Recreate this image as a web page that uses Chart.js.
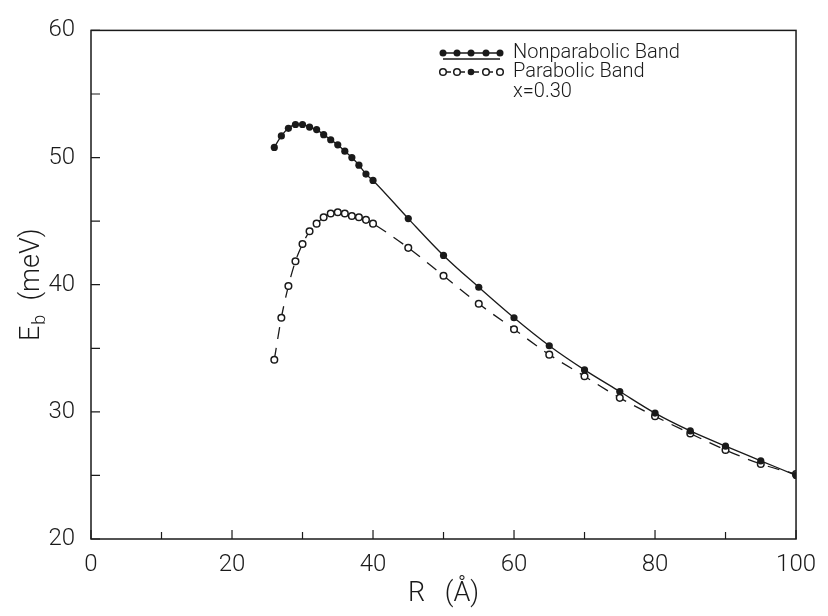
<!DOCTYPE html>
<html>
<head>
<meta charset="utf-8">
<script src="https://cdn.jsdelivr.net/npm/chart.js@4"></script>
<style>
  html, body { margin: 0; padding: 0; background: #fff; }
  #wrap { width: 828px; height: 616px; }
</style>
</head>
<body>
<div id="wrap"><canvas id="myChart" width="828" height="616"></canvas></div>
<script>
// R in Angstrom
const radius = [26, 27, 28, 29, 30, 31, 32, 33, 34, 35, 36, 37, 38, 39, 40,
                45, 50, 55, 60, 65, 70, 75, 80, 85, 90, 95, 100];
// binding energy (meV)
const nonparabolic = [50.8, 51.7, 52.3, 52.6, 52.6, 52.4, 52.2, 51.8, 51.4, 51.0, 50.5, 50.0, 49.4, 48.7, 48.2,
                      45.2, 42.3, 39.8, 37.4, 35.2, 33.3, 31.6, 29.9, 28.5, 27.3, 26.15, 25.0];
const parabolic = [34.1, 37.4, 39.9, 41.85, 43.2, 44.2, 44.8, 45.3, 45.6, 45.7, 45.6, 45.4, 45.3, 45.1, 44.8,
                   42.9, 40.7, 38.5, 36.5, 34.5, 32.8, 31.1, 29.65, 28.3, 27.0, 25.9, 25.1];
const xMinorTicks = [0, 10, 20, 30, 40, 50, 60, 70, 80, 90, 100];
const yMinorTicks = [20, 25, 30, 35, 40, 45, 50, 55, 60];
const legendLabels = ['Nonparabolic Band', 'Parabolic Band', 'x=0.30'];

const ink = '#1a1a1a';
const tickFont = { family: 'Roboto', size: 24, weight: 300 };

const toPoints = (ys) => radius.map((r, i) => ({ x: r, y: ys[i] }));

// frame + inward ticks, like the original plot
const framePlugin = {
  id: 'frame',
  afterDatasetsDraw(chart) {
    const { ctx, chartArea: a, scales } = chart;
    ctx.save();
    ctx.strokeStyle = ink;
    ctx.lineWidth = 1.5;
    ctx.strokeRect(a.left, a.top, a.right - a.left, a.bottom - a.top);
    ctx.lineWidth = 1.2;
    ctx.beginPath();
    xMinorTicks.forEach(v => {
      const px = scales.x.getPixelForValue(v);
      const len = v % 20 === 0 ? 9 : 7;
      ctx.moveTo(px, a.bottom);
      ctx.lineTo(px, a.bottom - len);
    });
    yMinorTicks.forEach(v => {
      const py = scales.y.getPixelForValue(v);
      ctx.moveTo(a.left, py);
      ctx.lineTo(a.left + 9, py);
    });
    ctx.stroke();

    // y title: E with subscript b
    ctx.fillStyle = ink;
    ctx.translate(32, (a.top + a.bottom) / 2);
    ctx.rotate(-Math.PI / 2);
    ctx.textBaseline = 'middle';
    ctx.font = '300 27px Roboto';
    const wE = ctx.measureText('E').width;
    ctx.font = '300 18px Roboto';
    const wb = ctx.measureText('b').width;
    ctx.font = '300 27px Roboto';
    const wRest = ctx.measureText('  (meV)').width;
    const total = wE + wb + 2 + wRest;
    let x0 = -total / 2;
    ctx.textAlign = 'left';
    ctx.fillText('E', x0, 0);
    ctx.font = '300 18px Roboto';
    ctx.fillText('b', x0 + wE + 1, 8);
    ctx.font = '300 27px Roboto';
    ctx.fillText('  (meV)', x0 + wE + wb + 2, 0);
    ctx.restore();
  }
};

// legend drawn like the figure's key
const keyPlugin = {
  id: 'key',
  afterDraw(chart) {
    const { ctx } = chart;
    const xs = [443, 457, 471, 486, 500];
    ctx.save();
    ctx.strokeStyle = ink;
    ctx.fillStyle = ink;
    ctx.lineWidth = 1.3;
    // nonparabolic row
    ctx.beginPath();
    ctx.moveTo(443, 53); ctx.lineTo(500, 53);
    ctx.moveTo(443, 59); ctx.lineTo(500, 59);
    ctx.stroke();
    xs.forEach(x => { ctx.beginPath(); ctx.arc(x, 53, 3.5, 0, Math.PI * 2); ctx.fill(); });
    // parabolic row
    ctx.setLineDash([8, 6]);
    ctx.beginPath();
    ctx.moveTo(443, 72); ctx.lineTo(500, 72);
    ctx.stroke();
    ctx.setLineDash([]);
    ctx.lineWidth = 1.5;
    [443, 457, 486, 500].forEach(x => {
      ctx.beginPath(); ctx.arc(x, 72, 3.3, 0, Math.PI * 2);
      ctx.fillStyle = '#fff'; ctx.fill(); ctx.stroke();
    });
    ctx.fillStyle = ink;
    ctx.beginPath(); ctx.arc(471, 72, 3.3, 0, Math.PI * 2); ctx.fill();
    ctx.font = '300 20px Roboto';
    ctx.textBaseline = 'middle';
    ctx.textAlign = 'left';
    ctx.fillText(legendLabels[0], 513, 53);
    ctx.fillText(legendLabels[1], 513, 72);
    ctx.fillText(legendLabels[2], 513, 92);
    ctx.restore();
  }
};

const ctx = document.getElementById('myChart');
new Chart(ctx, {
  type: 'scatter',
  data: {
    datasets: [{
      label: legendLabels[0],
      data: toPoints(nonparabolic),
      showLine: true,
      cubicInterpolationMode: 'monotone',
      borderColor: ink,
      borderWidth: 1.3,
      pointRadius: 3.6,
      pointBackgroundColor: ink,
      pointBorderColor: ink,
      pointBorderWidth: 0
    }, {
      label: legendLabels[1],
      data: toPoints(parabolic),
      showLine: true,
      cubicInterpolationMode: 'monotone',
      borderColor: ink,
      borderWidth: 1.3,
      borderDash: [12, 9],
      pointRadius: 3.3,
      pointBackgroundColor: '#fff',
      pointBorderColor: ink,
      pointBorderWidth: 1.5
    }]
  },
  options: {
    responsive: false,
    animation: false,
    layout: { padding: { top: 16, right: 26, left: 0, bottom: 0 } },
    plugins: {
      legend: { display: false },
      tooltip: { enabled: false }
    },
    scales: {
      x: {
        type: 'linear',
        min: 0, max: 100,
        afterFit: (s) => { s.height = 77; },
        grid: { display: false, drawTicks: false },
        border: { display: false },
        ticks: { stepSize: 20, padding: 12, color: ink, font: tickFont, maxRotation: 0 },
        title: {
          display: true,
          text: 'R   (Å)',
          color: ink,
          font: { family: 'Roboto', size: 27, weight: 300 },
          padding: { top: 0, bottom: 6 }
        }
      },
      y: {
        min: 20, max: 60,
        afterFit: (s) => { s.width = 91; },
        grid: { display: false, drawTicks: false },
        border: { display: false },
        ticks: { stepSize: 10, padding: 16, color: ink, font: tickFont }
      }
    }
  },
  plugins: [framePlugin, keyPlugin]
});
</script>
</body>
</html>
